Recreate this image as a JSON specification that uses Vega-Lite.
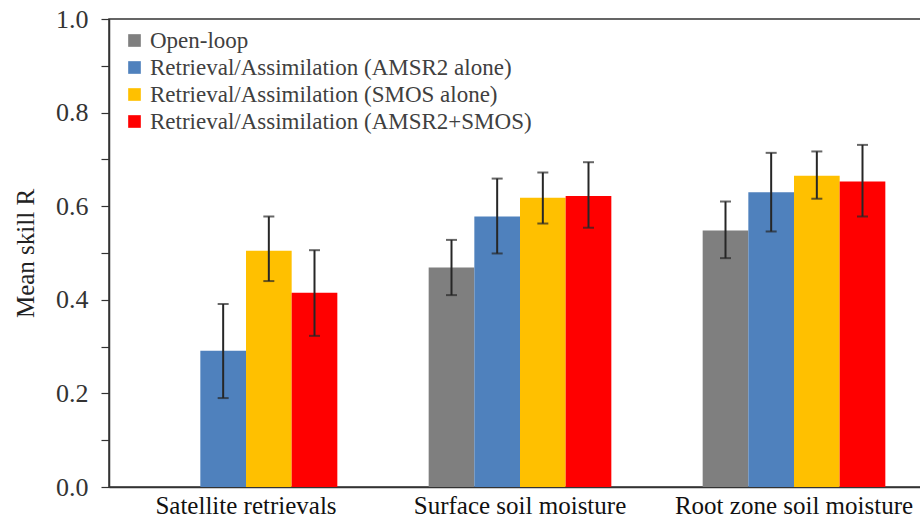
{
  "$schema": "https://vega.github.io/schema/vega-lite/v6.json",
  "width": 822,
  "height": 468,
  "autosize": {"type": "none"},
  "padding": {"left": 109, "top": 19, "right": 0, "bottom": 33},
  "background": "white",
  "config": {
    "view": {"stroke": "#333333", "strokeWidth": 1.5},
    "font": "Liberation Serif"
  },
  "data": {
    "values": [
      {"group": "Satellite retrievals", "series": "Retrieval/Assimilation (AMSR2 alone)", "R": 0.291, "lo": 0.19, "hi": 0.391},
      {"group": "Satellite retrievals", "series": "Retrieval/Assimilation (SMOS alone)", "R": 0.505, "lo": 0.44, "hi": 0.578},
      {"group": "Satellite retrievals", "series": "Retrieval/Assimilation (AMSR2+SMOS)", "R": 0.415, "lo": 0.323, "hi": 0.506},
      {"group": "Surface soil moisture", "series": "Open-loop", "R": 0.469, "lo": 0.41, "hi": 0.528},
      {"group": "Surface soil moisture", "series": "Retrieval/Assimilation (AMSR2 alone)", "R": 0.578, "lo": 0.499, "hi": 0.659},
      {"group": "Surface soil moisture", "series": "Retrieval/Assimilation (SMOS alone)", "R": 0.618, "lo": 0.563, "hi": 0.672},
      {"group": "Surface soil moisture", "series": "Retrieval/Assimilation (AMSR2+SMOS)", "R": 0.622, "lo": 0.554, "hi": 0.694},
      {"group": "Root zone soil moisture", "series": "Open-loop", "R": 0.548, "lo": 0.489, "hi": 0.61},
      {"group": "Root zone soil moisture", "series": "Retrieval/Assimilation (AMSR2 alone)", "R": 0.63, "lo": 0.546, "hi": 0.714},
      {"group": "Root zone soil moisture", "series": "Retrieval/Assimilation (SMOS alone)", "R": 0.665, "lo": 0.616, "hi": 0.717},
      {"group": "Root zone soil moisture", "series": "Retrieval/Assimilation (AMSR2+SMOS)", "R": 0.653, "lo": 0.578, "hi": 0.731}
    ]
  },
  "encoding": {
    "x": {
      "field": "group", "type": "nominal",
      "sort": ["Satellite retrievals", "Surface soil moisture", "Root zone soil moisture"],
      "scale": {"paddingInner": 0, "paddingOuter": 0},
      "axis": {
        "title": null, "labelAngle": 0, "ticks": false, "labelFontSize": 25,
        "labelColor": "#111111", "labelPadding": 6, "domainColor": "#333333", "domainWidth": 1.5,
        "labelFont": "Liberation Serif", "labelLimit": 1000
      }
    },
    "xOffset": {
      "field": "series", "type": "nominal",
      "sort": ["Open-loop", "Retrieval/Assimilation (AMSR2 alone)", "Retrieval/Assimilation (SMOS alone)", "Retrieval/Assimilation (AMSR2+SMOS)"],
      "scale": {
        "domain": ["Open-loop", "Retrieval/Assimilation (AMSR2 alone)", "Retrieval/Assimilation (SMOS alone)", "Retrieval/Assimilation (AMSR2+SMOS)"],
        "paddingInner": 0, "paddingOuter": 1
      }
    }
  },
  "layer": [
    {
      "mark": {"type": "bar"},
      "encoding": {
        "y": {
          "field": "R", "type": "quantitative",
          "scale": {"domain": [0, 1], "nice": false},
          "axis": {
            "title": "Mean skill R", "titleFontSize": 25, "titleFont": "Liberation Serif",
            "titleFontWeight": "normal", "titleColor": "#222222", "titlePadding": 17,
            "values": [0, 0.1, 0.2, 0.3, 0.4, 0.5, 0.6, 0.7, 0.8, 0.9, 1.0],
            "labelExpr": "round(datum.value * 10) % 2 == 0 ? format(datum.value, '.1f') : ''",
            "labelFontSize": 26, "labelColor": "#333333", "labelFont": "Liberation Serif",
            "labelPadding": 13, "tickSize": 8, "tickColor": "#333333", "tickWidth": 1.2,
            "domainColor": "#333333", "domainWidth": 1.5, "grid": false
          }
        },
        "color": {
          "field": "series", "type": "nominal",
          "scale": {
            "domain": ["Open-loop", "Retrieval/Assimilation (AMSR2 alone)", "Retrieval/Assimilation (SMOS alone)", "Retrieval/Assimilation (AMSR2+SMOS)"],
            "range": ["#7f7f7f", "#4f81bd", "#ffc000", "#ff0000"]
          },
          "legend": {
            "title": null, "orient": "none", "legendX": 14, "legendY": 10,
            "symbolType": "square", "symbolSize": 160, "symbolStrokeWidth": 0,
            "labelFontSize": 23, "labelFont": "Liberation Serif", "labelColor": "#404040",
            "labelOffset": 4, "rowPadding": 3, "labelLimit": 600, "padding": 0
          }
        }
      }
    },
    {
      "mark": {"type": "rule", "color": "#262626", "strokeWidth": 2},
      "encoding": {
        "y": {"field": "lo", "type": "quantitative"},
        "y2": {"field": "hi"}
      }
    },
    {
      "mark": {"type": "tick", "color": "#262626", "thickness": 2, "size": 11, "orient": "horizontal"},
      "encoding": {"y": {"field": "lo", "type": "quantitative"}}
    },
    {
      "mark": {"type": "tick", "color": "#262626", "thickness": 2, "size": 11, "orient": "horizontal"},
      "encoding": {"y": {"field": "hi", "type": "quantitative"}}
    }
  ]
}
